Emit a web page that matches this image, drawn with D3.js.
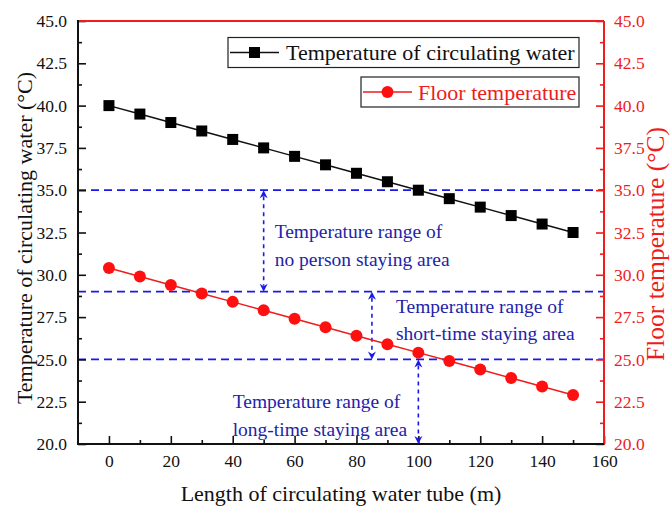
<!DOCTYPE html>
<html>
<head>
<meta charset="utf-8">
<script src="https://cdn.jsdelivr.net/npm/d3@7"></script>
<style>
  html, body { margin: 0; padding: 0; background: #fff; }
  svg { display: block; font-family: "Liberation Serif", "Times New Roman", serif; }
</style>
</head>
<body>
<svg id="chart" width="670" height="507"></svg>
<script>
// Tube length (m) at each measuring point
const lengths = [0, 10, 20, 30, 40, 50, 60, 70, 80, 90, 100, 110, 120, 130, 140, 150];
// Temperature of circulating water (°C)
const waterTemp = [40.0, 39.5, 39.0, 38.5, 38.0, 37.5, 37.0, 36.5, 36.0, 35.5, 35.0, 34.5, 34.0, 33.5, 33.0, 32.5];
// Floor surface temperature (°C)
const floorTemp = [30.4, 29.9, 29.4, 28.9, 28.4, 27.9, 27.4, 26.9, 26.4, 25.9, 25.4, 24.9, 24.4, 23.9, 23.4, 22.9];

// Tick values
const xTicks = [0, 20, 40, 60, 80, 100, 120, 140, 160];
const yTicks = [20.0, 22.5, 25.0, 27.5, 30.0, 32.5, 35.0, 37.5, 40.0, 42.5, 45.0];

// Comfort limits (°C) drawn as dashed reference lines
const limits = [35, 29, 25];
// Range arrows: tube length and the two temperatures they span
const rangeArrowX = [50, 85, 100];
const rangeArrowFrom = [35, 29, 25];
const rangeArrowTo = [29, 25, 20];
const rangeLabels = [
  ["Temperature range of", "no person staying area"],
  ["Temperature range of", "short-time staying area"],
  ["Temperature range of", "long-time staying area"]
];

const svg = d3.select("#chart");
const plotLeft = 78, plotRight = 604, plotTop = 21, plotBottom = 444;

const x = d3.scaleLinear().domain([-10, 160]).range([plotLeft, plotRight]);
const yL = d3.scaleLinear().domain([20, 45]).range([plotBottom, plotTop]);
const yR = d3.scaleLinear().domain([20, 45]).range([plotBottom, plotTop]);

const RED = "#ee1c1c";
const LINE_BLUE = "#1a1ae6";
const TEXT_BLUE = "#2323a8";
const SERIF = "'Liberation Serif', 'Times New Roman', serif";

// ---- reference lines ----
svg.append("g").selectAll("line").data(limits).join("line")
  .attr("x1", plotLeft).attr("x2", plotRight)
  .attr("y1", d => yL(d)).attr("y2", d => yL(d))
  .attr("stroke", LINE_BLUE).attr("stroke-width", 1.8)
  .attr("stroke-dasharray", "8,5");

// ---- axes ----
function styleAxis(g, color, fontSize) {
  g.attr("font-family", SERIF);
  g.select(".domain").remove();
  g.selectAll(".tick line").attr("stroke", color).attr("stroke-width", 1.6);
  g.selectAll(".tick text").attr("fill", color).attr("font-size", fontSize);
}
function styleMinor(g, color) {
  g.select(".domain").remove();
  g.selectAll("line").attr("stroke", color).attr("stroke-width", 1.6);
}

// bottom axis (ticks pointing inward)
const gx = svg.append("g").attr("transform", `translate(0,${plotBottom})`)
  .call(d3.axisBottom(x).tickValues(xTicks).tickSize(-8).tickPadding(11).tickFormat(d3.format("d")));
styleAxis(gx, "#111", 17.5);
svg.append("g").attr("transform", `translate(0,${plotBottom})`)
  .call(d3.axisBottom(x).tickValues(d3.range(10, 160, 20)).tickSize(-4).tickFormat(""))
  .call(g => styleMinor(g, "#111"));

// left axis
const gl = svg.append("g").attr("transform", `translate(${plotLeft},0)`)
  .call(d3.axisLeft(yL).tickValues(yTicks).tickSize(-8).tickPadding(11).tickFormat(d3.format(".1f")));
styleAxis(gl, "#111", 17.5);
svg.append("g").attr("transform", `translate(${plotLeft},0)`)
  .call(d3.axisLeft(yL).tickValues(d3.range(21.25, 45, 2.5)).tickSize(-4).tickFormat(""))
  .call(g => styleMinor(g, "#111"));

// right axis
const gr = svg.append("g").attr("transform", `translate(${plotRight},0)`)
  .call(d3.axisRight(yR).tickValues(yTicks).tickSize(-8).tickPadding(10).tickFormat(d3.format(".1f")));
styleAxis(gr, RED, 17.5);
svg.append("g").attr("transform", `translate(${plotRight},0)`)
  .call(d3.axisRight(yR).tickValues(d3.range(21.25, 45, 2.5)).tickSize(-4).tickFormat(""))
  .call(g => styleMinor(g, RED));

// frame lines
svg.append("line").attr("x1", plotLeft).attr("x2", plotRight).attr("y1", plotTop).attr("y2", plotTop)
  .attr("stroke", RED).attr("stroke-width", 2);
svg.append("line").attr("x1", plotRight).attr("x2", plotRight).attr("y1", plotTop).attr("y2", plotBottom + 1)
  .attr("stroke", RED).attr("stroke-width", 2);
svg.append("line").attr("x1", plotLeft).attr("x2", plotRight).attr("y1", plotBottom).attr("y2", plotBottom)
  .attr("stroke", "#111").attr("stroke-width", 2);
svg.append("line").attr("x1", plotLeft).attr("x2", plotLeft).attr("y1", plotTop - 1).attr("y2", plotBottom + 1)
  .attr("stroke", "#111").attr("stroke-width", 2);

// ---- axis titles ----
svg.append("text").attr("x", (plotLeft + plotRight) / 2).attr("y", 501)
  .attr("text-anchor", "middle").attr("font-size", 22).attr("fill", "#111")
  .text("Length of circulating water tube (m)");
svg.append("text").attr("transform", "translate(32,238) rotate(-90)")
  .attr("text-anchor", "middle").attr("font-size", 22).attr("fill", "#111")
  .text("Temperature of circulating water (°C)");
svg.append("text").attr("transform", "translate(664,244) rotate(-90)")
  .attr("text-anchor", "middle").attr("font-size", 25.5).attr("fill", RED)
  .text("Floor temperature (°C)");

// ---- range arrows ----
function arrowHead(px, py, dir) {
  // dir = -1 points up, +1 points down
  const h = 8, w = 4, notch = 5.5;
  return `M${px},${py} L${px - w},${py - dir * h} L${px},${py - dir * notch} L${px + w},${py - dir * h} Z`;
}
const arrows = svg.append("g");
rangeArrowX.forEach((ax, i) => {
  const px = x(ax);
  const yTop = yL(rangeArrowFrom[i]);
  const yBot = yL(rangeArrowTo[i]);
  arrows.append("line").attr("x1", px).attr("x2", px).attr("y1", yTop + 6).attr("y2", yBot - 6)
    .attr("stroke", LINE_BLUE).attr("stroke-width", 1.6).attr("stroke-dasharray", "4,4");
  arrows.append("path").attr("d", arrowHead(px, yTop, -1)).attr("fill", LINE_BLUE);
  arrows.append("path").attr("d", arrowHead(px, yBot, 1)).attr("fill", LINE_BLUE);
});

// ---- range labels ----
const labelAnchor = [
  { x: x(50) + 11, y: yL(35) + 48 },
  { x: x(85) + 24, y: yL(29) + 21 },
  { x: x(40), y: yL(25) + 49 }
];
rangeLabels.forEach((lines, i) => {
  const t = svg.append("text").attr("font-size", 19.5).attr("fill", TEXT_BLUE);
  lines.forEach((s, j) => {
    t.append("tspan").attr("x", labelAnchor[i].x).attr("y", labelAnchor[i].y + j * 27.5).text(s);
  });
});

// ---- series ----
const lineGen = (ys, scale) => d3.line().x((d, i) => x(lengths[i])).y(d => scale(d))(ys);

svg.append("path").attr("d", lineGen(waterTemp, yL))
  .attr("fill", "none").attr("stroke", "#111").attr("stroke-width", 1.5);
svg.append("g").selectAll("rect").data(waterTemp).join("rect")
  .attr("x", (d, i) => x(lengths[i]) - 5.5).attr("y", d => yL(d) - 5.5)
  .attr("width", 11).attr("height", 11).attr("fill", "#000");

svg.append("path").attr("d", lineGen(floorTemp, yR))
  .attr("fill", "none").attr("stroke", RED).attr("stroke-width", 1.5);
svg.append("g").selectAll("circle").data(floorTemp).join("circle")
  .attr("cx", (d, i) => x(lengths[i])).attr("cy", d => yR(d))
  .attr("r", 6).attr("fill", "#ff1010");

// ---- legend ----
const legend = svg.append("g");
legend.append("rect").attr("x", 228).attr("y", 37.5).attr("width", 351).attr("height", 30)
  .attr("fill", "#fff").attr("stroke", "#222").attr("stroke-width", 1.2);
legend.append("line").attr("x1", 230).attr("x2", 279).attr("y1", 52.5).attr("y2", 52.5)
  .attr("stroke", "#111").attr("stroke-width", 1.5);
legend.append("rect").attr("x", 254.5 - 5.5).attr("y", 52.5 - 5.5).attr("width", 11).attr("height", 11).attr("fill", "#000");
legend.append("text").attr("x", 286).attr("y", 60).attr("font-size", 22).attr("fill", "#111")
  .text("Temperature of circulating water");

legend.append("rect").attr("x", 361).attr("y", 77).attr("width", 218).attr("height", 30)
  .attr("fill", "#fff").attr("stroke", "#222").attr("stroke-width", 1.2);
legend.append("line").attr("x1", 363).attr("x2", 412).attr("y1", 92).attr("y2", 92)
  .attr("stroke", RED).attr("stroke-width", 1.5);
legend.append("circle").attr("cx", 387.5).attr("cy", 92).attr("r", 6).attr("fill", "#ff1010");
legend.append("text").attr("x", 418).attr("y", 99.5).attr("font-size", 22).attr("fill", RED)
  .text("Floor temperature");
</script>
</body>
</html>
